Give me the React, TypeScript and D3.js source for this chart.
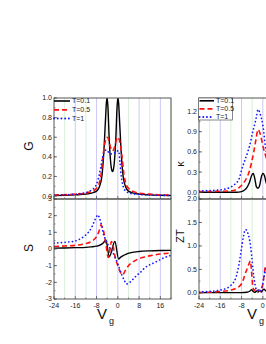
import React from "react";
import * as d3 from "d3";

// ---------- data ----------
const SERIES_NAMES = ["T=0.1", "T=0.5", "T=1"];
const X_MAJOR = [-24, -16, -8, 0, 8, 16];
const X_MINOR = [-20, -12, -4, 4, 12, 20];

// G (conductance)
const G_T01_X = [-24, -20, -16, -12, -10, -8, -7, -6, -5.5, -5, -4.6, -4.3, -4, -3.7, -3.3, -2.8, -2.4, -2, -1.6, -1.2, -0.7, -0.3, 0, 0.3, 0.6, 1, 1.5, 2, 3, 4, 6, 8, 12, 16, 20];
const G_T01_Y = [0.005, 0.007, 0.012, 0.02, 0.03, 0.05, 0.09, 0.2, 0.35, 0.58, 0.8, 0.95, 1.0, 0.9, 0.62, 0.38, 0.28, 0.25, 0.28, 0.38, 0.62, 0.9, 1.0, 0.95, 0.8, 0.58, 0.35, 0.2, 0.09, 0.05, 0.03, 0.02, 0.012, 0.008, 0.006];
const G_T05_X = [-24, -16, -12, -10, -8, -7, -6.3, -5.6, -5, -4.5, -4, -3.5, -3, -2.5, -2, -1.5, -1, -0.5, 0, 0.5, 1, 1.6, 2.3, 3, 4, 6, 8, 12, 16, 20];
const G_T05_Y = [0.01, 0.02, 0.03, 0.045, 0.08, 0.13, 0.22, 0.4, 0.52, 0.58, 0.6, 0.58, 0.52, 0.48, 0.46, 0.48, 0.52, 0.58, 0.6, 0.58, 0.52, 0.4, 0.22, 0.13, 0.08, 0.045, 0.03, 0.02, 0.012, 0.01];
const G_T1_X = [-24, -16, -12, -10, -9, -8, -7.3, -6.5, -5.7, -5, -4.4, -3.6, -2.8, -2, -1.2, -0.4, 0.3, 0.8, 1.3, 2, 3, 5, 8, 12, 20];
const G_T1_Y = [0.01, 0.02, 0.035, 0.06, 0.08, 0.12, 0.18, 0.28, 0.4, 0.46, 0.47, 0.45, 0.43, 0.43, 0.44, 0.46, 0.46, 0.35, 0.2, 0.1, 0.05, 0.025, 0.015, 0.01, 0.006];

// S (thermopower)
const S_T01_X = [-24, -20, -16, -12, -10, -8, -6.5, -5.5, -4.5, -3.2, -1.1, 0.3, 1, 2, 3, 5, 8, 12, 16, 20];
const S_T01_Y = [0.05, 0.06, 0.08, 0.1, 0.13, 0.17, 0.25, 0.36, 0.55, -0.47, 0.45, -0.6, -0.5, -0.4, -0.32, -0.22, -0.15, -0.11, -0.09, -0.08];
const S_T05_X = [-24, -20, -16, -12, -10, -8, -7, -6.3, -5.8, -5, -4.4, -3.6, -3.1, -2.4, -1.8, -1, 0, 0.8, 1.8, 2.8, 4, 5.5, 7, 10, 13, 16, 20];
const S_T05_Y = [0.15, 0.18, 0.22, 0.33, 0.45, 0.75, 1.1, 1.45, 1.3, 0.8, 0.2, -0.5, -0.2, 0.45, 0.2, -0.5, -1.0, -1.35, -1.55, -1.3, -1.0, -0.8, -0.65, -0.48, -0.38, -0.3, -0.24];
const S_T1_X = [-24, -20, -16, -14, -12, -10, -9, -8, -7.5, -7, -6, -5.5, -4.5, -3.5, -2.3, -1, 0, 1.5, 2.5, 3.3, 4.5, 5.5, 7, 8.5, 10, 12, 14, 17, 20];
const S_T1_Y = [0.35, 0.4, 0.48, 0.62, 0.85, 1.25, 1.6, 1.95, 2.05, 1.9, 1.35, 0.95, 0.55, 0.2, -0.1, -0.5, -0.9, -1.55, -1.9, -2.1, -2.0, -1.85, -1.6, -1.4, -1.15, -0.95, -0.8, -0.55, -0.38];

// kappa (thermal conductance)
const K_T01_X = [-24, -10, -8, -7, -6, -5, -4.2, -3.6, -3, -2.4, -1.8, -1.2, -0.6, 0, 0.6, 1.2, 2.2, 3.5, 5, 8, 20];
const K_T01_Y = [0.0, 0.0, 0.01, 0.03, 0.07, 0.15, 0.25, 0.28, 0.2, 0.08, 0.06, 0.1, 0.22, 0.28, 0.25, 0.15, 0.07, 0.03, 0.01, 0.0, 0.0];
const K_T05_X = [-24, -16, -12, -10, -8.6, -7, -6, -5, -4.2, -3.4, -2.6, -1.8, -1.1, -0.4, 0.2, 1, 2, 4, 8, 20];
const K_T05_Y = [0.01, 0.015, 0.02, 0.04, 0.08, 0.15, 0.22, 0.32, 0.45, 0.6, 0.78, 0.93, 0.88, 0.77, 0.66, 0.55, 0.42, 0.22, 0.06, 0.01];
const K_T1_X = [-24, -20, -16, -14, -12.4, -10.5, -8.9, -8, -6.8, -5.5, -4.9, -3.9, -3, -2.4, -1.8, -0.9, -0.1, 0.4, 0.8, 2, 4, 8, 20];
const K_T1_Y = [0.02, 0.025, 0.035, 0.05, 0.07, 0.12, 0.2, 0.33, 0.47, 0.62, 0.7, 0.88, 1.02, 1.12, 1.23, 1.15, 1.02, 0.88, 0.73, 0.5, 0.3, 0.1, 0.02];

// ZT (figure of merit)
const Z_T01_X = [-24, -8, -6, -4.8, -4.2, -3.6, -3, -2.4, -1.8, -1.2, -0.5, 0, 0.5, 1, 3, 20];
const Z_T01_Y = [0.005, 0.005, 0.015, 0.04, 0.07, 0.03, 0.01, 0.04, 0.02, 0.05, 0.02, 0.06, 0.08, 0.05, 0.02, 0.005];
const Z_T05_X = [-24, -20, -16, -12, -10, -8.5, -7.5, -6.8, -6, -5.2, -4.7, -4.3, -3.8, -3.3, -2.7, -2.2, -1.5, -0.8, -0.3, 0.3, 1, 2, 4, 8, 20];
const Z_T05_Y = [0.01, 0.015, 0.03, 0.06, 0.1, 0.16, 0.25, 0.38, 0.5, 0.62, 0.68, 0.5, 0.15, 0.05, 0.08, 0.03, 0.06, 0.03, 0.1, 0.3, 0.55, 0.4, 0.2, 0.06, 0.01];
const Z_T1_X = [-24, -20, -16, -14, -12, -10, -9, -8, -7.3, -6.5, -5.8, -4.9, -4.2, -3.6, -3, -2.5, -2, -1.4, -0.8, -0.2, 0.5, 1, 2, 4, 8, 20];
const Z_T1_Y = [0.02, 0.03, 0.06, 0.09, 0.16, 0.35, 0.6, 0.95, 1.2, 1.35, 1.3, 1.1, 0.8, 0.45, 0.2, 0.08, 0.05, 0.08, 0.05, 0.15, 0.35, 0.5, 0.6, 0.4, 0.12, 0.02];

const G_TICKS = [0, 0.2, 0.4, 0.6, 0.8, 1.0];
const S_TICKS = [-3, -2, -1, 0, 1, 2, 3];
const K_TICKS = [0, 0.3, 0.6, 0.9, 1.2];
const Z_TICKS = [0, 0.5, 1.0, 1.5, 2.0];

// ---------- styles ----------
const COLORS = ["#000000", "#ff1010", "#1a1aff"];
const DASH = ["none", "5,3", "0.1,3.6"];
const WIDTH = [1.4, 1.6, 1.7];
const FONT = "Liberation Sans, Arial, sans-serif";

type Panel = {
  id: string;
  xr: [number, number];
  yr: [number, number];
  ydom: [number, number];
  yticks: number[];
  yminorStep: number;
  yfmt: (v: number) => string;
  label: string;
  labelPos: [number, number];
  labelSize: number;
  series: [number[], number[]][];
  xLabels: boolean;
};

const f1 = (v: number) => v.toFixed(1);
const f0 = (v: number) => String(v);

const PANELS: Panel[] = [
  { id: "g", xr: [54, 171], yr: [199, 98], ydom: [-0.03, 1.0], yticks: G_TICKS, yminorStep: 0.1, yfmt: f1, label: "G", labelPos: [29, 146], labelSize: 12, series: [[G_T01_X, G_T01_Y], [G_T05_X, G_T05_Y], [G_T1_X, G_T1_Y]], xLabels: false },
  { id: "s", xr: [54, 171], yr: [299, 199], ydom: [-3, 3], yticks: S_TICKS, yminorStep: 0.5, yfmt: f0, label: "S", labelPos: [29, 248], labelSize: 12, series: [[S_T01_X, S_T01_Y], [S_T05_X, S_T05_Y], [S_T1_X, S_T1_Y]], xLabels: true },
  { id: "k", xr: [199, 316], yr: [199, 98], ydom: [-0.1, 1.4], yticks: K_TICKS, yminorStep: 0.15, yfmt: f1, label: "κ", labelPos: [180, 164], labelSize: 11, series: [[K_T01_X, K_T01_Y], [K_T05_X, K_T05_Y], [K_T1_X, K_T1_Y]], xLabels: false },
  { id: "z", xr: [199, 316], yr: [299, 199], ydom: [-0.13, 2.0], yticks: Z_TICKS, yminorStep: 0.25, yfmt: f1, label: "ZT", labelPos: [180, 236], labelSize: 11, series: [[Z_T01_X, Z_T01_Y], [Z_T05_X, Z_T05_Y], [Z_T1_X, Z_T1_Y]], xLabels: true },
];

function PanelView({ p }: { p: Panel }) {
  const x = d3.scaleLinear().domain([-24, 20]).range(p.xr);
  const y = d3.scaleLinear().domain(p.ydom).range(p.yr);
  const line = d3
    .line<[number, number]>()
    .x((d) => x(d[0]))
    .y((d) => y(d[1]))
    .curve(d3.curveMonotoneX);
  const [x0, x1] = p.xr;
  const [yb, yt] = p.yr;
  const minorY: number[] = [];
  for (let k = Math.ceil(p.ydom[0] / p.yminorStep - 1e-9); k * p.yminorStep <= p.ydom[1] + 1e-9; k++) minorY.push(k * p.yminorStep);
  return (
    <g>
      <defs>
        <clipPath id={"clip-" + p.id}>
          <rect x={x0} y={yt} width={x1 - x0} height={yb - yt} />
        </clipPath>
      </defs>
      {X_MINOR.map((v) => (
        <line key={"gm" + v} x1={x(v)} x2={x(v)} y1={yt} y2={yb} stroke="#cfeccf" strokeWidth={0.8} />
      ))}
      {X_MAJOR.filter((v) => v !== -24).map((v) => (
        <line key={"gM" + v} x1={x(v)} x2={x(v)} y1={yt} y2={yb} stroke="#c4c4f4" strokeWidth={0.9} />
      ))}
      <g clipPath={`url(#clip-${p.id})`}>
        {p.series.map(([xs, ys], i) => (
          <path
            key={i}
            d={line(xs.map((xv, j) => [xv, ys[j]] as [number, number])) || ""}
            fill="none"
            stroke={COLORS[i]}
            strokeWidth={WIDTH[i]}
            strokeDasharray={DASH[i]}
            strokeLinecap={i === 2 ? "round" : "butt"}
          />
        ))}
      </g>
      <rect x={x0} y={yt} width={x1 - x0} height={yb - yt} fill="none" stroke="#444" strokeWidth={0.9} />
      {minorY.map((v, i) => (
        <line key={"ym" + i} x1={x0} x2={x0 + 1.5} y1={y(v)} y2={y(v)} stroke="#444" strokeWidth={0.6} />
      ))}
      {p.yticks.map((v) => (
        <g key={"yt" + v}>
          <line x1={x0} x2={x0 + 3} y1={y(v)} y2={y(v)} stroke="#444" strokeWidth={0.7} />
          <text x={x0 - 2} y={y(v)} dy="0.35em" textAnchor="end" fontFamily={FONT} fontSize={7} fill="#222">
            {p.yfmt(v)}
          </text>
        </g>
      ))}
      {X_MAJOR.map((v) => (
        <line key={"xt" + v} x1={x(v)} x2={x(v)} y1={yb} y2={yb - 3} stroke="#444" strokeWidth={0.7} />
      ))}
      {X_MINOR.map((v) => (
        <line key={"xm" + v} x1={x(v)} x2={x(v)} y1={yb} y2={yb - 1.5} stroke="#444" strokeWidth={0.6} />
      ))}
      {p.xLabels &&
        X_MAJOR.map((v) => (
          <text key={"xl" + v} x={x(v)} y={yb + 9} textAnchor="middle" fontFamily={FONT} fontSize={7} fill="#222">
            {v}
          </text>
        ))}
      <text
        transform={`translate(${p.labelPos[0]},${p.labelPos[1]}) rotate(-90)`}
        textAnchor="middle"
        dy="0.35em"
        fontFamily={FONT}
        fontSize={p.labelSize}
        fill="#111"
      >
        {p.label}
      </text>
    </g>
  );
}

function Legend({ x0, lineLen, gap, rows, box }: { x0: number; lineLen: number; gap: number; rows: number[]; box: boolean }) {
  return (
    <g>
      {box && <rect x={x0 - 1} y={98} width={34} height={22} fill="white" stroke="#555" strokeWidth={0.7} />}
      {SERIES_NAMES.map((name, i) => (
        <g key={name}>
          <line x1={x0} x2={x0 + lineLen} y1={rows[i]} y2={rows[i]} stroke={COLORS[i]} strokeWidth={WIDTH[i] + 0.2} strokeDasharray={DASH[i]} strokeLinecap={i === 2 ? "round" : "butt"} />
          <text x={x0 + lineLen + gap} y={rows[i]} dy="0.35em" fontFamily={FONT} fontSize={7} fill="#222">
            {name}
          </text>
        </g>
      ))}
    </g>
  );
}

export default function App() {
  return (
    <svg width={266} height={344} style={{ position: "absolute", left: 0, top: 0, background: "white" }}>
      <rect x={0} y={0} width={266} height={344} fill="white" />
      {PANELS.map((p) => (
        <PanelView key={p.id} p={p} />
      ))}
      <Legend x0={54} lineLen={16} gap={2} rows={[101, 109.8, 118.5]} box={false} />
      <Legend x0={199.5} lineLen={14.5} gap={2} rows={[100.8, 108.8, 117]} box={true} />
      <text x={102} y={319} textAnchor="middle" fontFamily={FONT} fontSize={15} fill="#111">V</text>
      <text x={111.5} y={324} textAnchor="middle" fontFamily={FONT} fontSize={9} fill="#111">g</text>
      <text x={252} y={319} textAnchor="middle" fontFamily={FONT} fontSize={15} fill="#111">V</text>
      <text x={261.5} y={324} textAnchor="middle" fontFamily={FONT} fontSize={9} fill="#111">g</text>
    </svg>
  );
}
